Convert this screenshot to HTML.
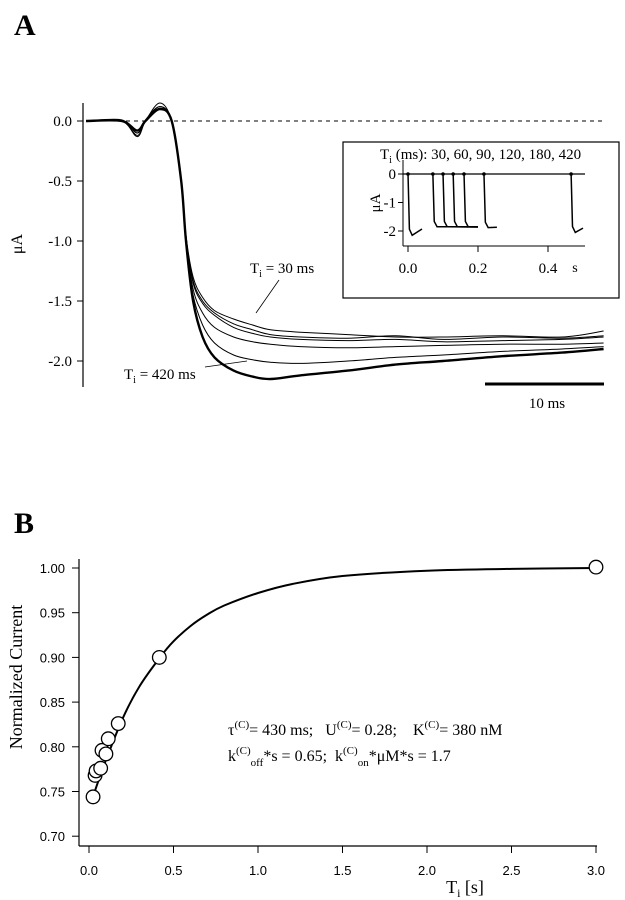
<!DOCTYPE html>
<html><head><meta charset="utf-8"><style>
html,body{margin:0;padding:0;background:#fff}
svg{display:block}
text{font-family:"Liberation Serif",serif;fill:#000}
.sans{font-family:"Liberation Sans",sans-serif}
</style></head><body>
<svg id="fig" width="625" height="900" viewBox="0 0 625 900">
<text x="14" y="35" font-size="30" font-weight="bold">A</text>
<text x="14" y="533" font-size="30" font-weight="bold">B</text>
<g id="gA"></g>
<g id="gI"></g>
<g id="gB"></g>
</svg>
<script>
// ===== Panel A data =====
const timesMs = [0,3,4.3,5,6.2,7.2,8,8.4,9,9.8,10.8,12.4,14,15.5,18,22,26,30,35,40,43.5];
const trace30 = [0,0,-0.13,0,0.15,0,-0.48,-0.95,-1.3,-1.47,-1.58,-1.65,-1.7,-1.74,-1.76,-1.78,-1.8,-1.8,-1.79,-1.8,-1.75];
const trace60 = [0,0.01,-0.1,0.01,0.12,0,-0.49,-0.96,-1.33,-1.5,-1.6,-1.69,-1.74,-1.78,-1.8,-1.81,-1.79,-1.82,-1.8,-1.81,-1.79];
const trace90 = [0,0,-0.12,0,0.12,0,-0.5,-0.97,-1.35,-1.52,-1.62,-1.72,-1.77,-1.8,-1.82,-1.83,-1.82,-1.84,-1.83,-1.82,-1.8];
const trace120 = [0,0,-0.1,0,0.1,0,-0.5,-0.98,-1.4,-1.6,-1.72,-1.8,-1.84,-1.86,-1.88,-1.89,-1.88,-1.87,-1.86,-1.86,-1.85];
const trace180 = [0,0,-0.08,0,0.1,0,-0.5,-1.0,-1.45,-1.7,-1.85,-1.95,-1.99,-2.01,-2.02,-2.0,-1.97,-1.95,-1.92,-1.9,-1.88];
const trace420 = [0,0,-0.08,0,0.1,0,-0.5,-1.0,-1.5,-1.8,-1.97,-2.08,-2.13,-2.15,-2.12,-2.08,-2.03,-2.0,-1.96,-1.93,-1.9];
const yTicksA = [0,-0.5,-1.0,-1.5,-2.0];
const yTickLabelsA = ["0.0","-0.5","-1.0","-1.5","-2.0"];
// ===== Inset data =====
const pulseStarts = [0,0.071,0.1,0.129,0.16,0.217,0.466];
const pulseEnds = [0.04,0.2,0.2,0.2,0.2,0.254,0.5];
const pulseMin = [-2.15,-1.85,-1.85,-1.85,-1.85,-1.88,-2.05];
const pulseEndVal = [-1.93,-1.85,-1.86,-1.86,-1.85,-1.87,-1.9];
const insetYTicks = [0,-1,-2];
const insetYLabels = ["0","-1","-2"];
const insetXTicks = [0,0.2,0.4];
const insetXLabels = ["0.0","0.2","0.4"];
// ===== Panel B data =====
const pointT = [0.024,0.036,0.042,0.069,0.077,0.1,0.114,0.173,0.416,3.0];
const pointV = [0.744,0.768,0.773,0.776,0.796,0.792,0.809,0.826,0.900,1.001];
const fitT = [0.03,0.1,0.2,0.3,0.42,0.5,0.6,0.7,0.8,1.0,1.2,1.5,2.0,2.5,3.0];
const fitV = [0.748,0.785,0.832,0.868,0.900,0.918,0.935,0.948,0.958,0.972,0.982,0.991,0.997,0.999,1.0];
const xTicksB = [0,0.5,1.0,1.5,2.0,2.5,3.0];
const xTickLabelsB = ["0.0","0.5","1.0","1.5","2.0","2.5","3.0"];
const yTicksB = [1.0,0.95,0.9,0.85,0.8,0.75,0.7];
const yTickLabelsB = ["1.00","0.95","0.90","0.85","0.80","0.75","0.70"];

const NS="http://www.w3.org/2000/svg";
function mk(parent,tag,attrs,txt){const e=document.createElementNS(NS,tag);for(const k in attrs)e.setAttribute(k,attrs[k]);if(txt!==undefined)e.textContent=txt;parent.appendChild(e);return e;}
function smooth(P){
  let d='M'+P[0][0].toFixed(1)+','+P[0][1].toFixed(1);
  for(let i=0;i<P.length-1;i++){
    const p0=P[i-1]||P[i],p1=P[i],p2=P[i+1],p3=P[i+2]||P[i+1];
    const c1=[p1[0]+(p2[0]-p0[0])/6,p1[1]+(p2[1]-p0[1])/6];
    const c2=[p2[0]-(p3[0]-p1[0])/6,p2[1]-(p3[1]-p1[1])/6];
    d+=` C${c1[0].toFixed(1)},${c1[1].toFixed(1)} ${c2[0].toFixed(1)},${c2[1].toFixed(1)} ${p2[0].toFixed(1)},${p2[1].toFixed(1)}`;
  }
  return d;
}

// ---- Panel A ----
const gA=document.getElementById('gA');
const xA=t=>86+t*11.9;
const yA=v=>121-v*120;
let ax=mk(gA,'line',{x1:83,y1:103,x2:83,y2:387,stroke:'#000','stroke-width':1.2});


yTicksA.forEach((v,i)=>{
  let tk=mk(gA,'line',{x1:77,y1:yA(v),x2:83,y2:yA(v),stroke:'#000','stroke-width':1});
  
  
  let tl=mk(gA,'text',{x:72,y:yA(v)+5,'font-size':15,'text-anchor':'end'},yTickLabelsA[i]);
  
  
});
let yl=mk(gA,'text',{x:0,y:0,'font-size':16,'text-anchor':'middle',transform:'translate(22,244) rotate(-90)'},'μA');


let zl=mk(gA,'line',{x1:86,y1:yA(0),x2:604,y2:yA(0),stroke:'#000','stroke-width':1,'stroke-dasharray':'4,4'});


const traces=[[trace30,1,'trace-30ms'],[trace60,1,'trace-60ms'],[trace90,1,'trace-90ms'],[trace120,1,'trace-120ms'],[trace180,1,'trace-180ms'],[trace420,2.4,'trace-420ms']];
traces.forEach(([arr,w,name])=>{
  const P=arr.map((v,i)=>[xA(timesMs[i]),yA(v)]);
  let p=mk(gA,'path',{d:smooth(P),fill:'none',stroke:'#000','stroke-width':w,'stroke-linejoin':'round'});
  
  
});
let sb=mk(gA,'line',{x1:485,y1:384,x2:604,y2:384,stroke:'#000','stroke-width':3});


let sbl=mk(gA,'text',{x:547,y:408,'font-size':15,'text-anchor':'middle'},'10 ms');


let l30=mk(gA,'text',{x:250,y:273,'font-size':15},'');
l30.innerHTML='T<tspan font-size="10" dy="4">i</tspan><tspan dy="-4"> = 30 ms</tspan>';


let ln30=mk(gA,'line',{x1:279,y1:280,x2:256,y2:313,stroke:'#000','stroke-width':0.8});


let l420=mk(gA,'text',{x:124,y:379,'font-size':15},'');
l420.innerHTML='T<tspan font-size="10" dy="4">i</tspan><tspan dy="-4"> = 420 ms</tspan>';


let ln420=mk(gA,'line',{x1:205,y1:367,x2:247,y2:361,stroke:'#000','stroke-width':0.8});



// ---- Inset ----
const gI=document.getElementById('gI');
const xI=t=>408+t*350;
const yI=v=>174-v*28.5;
let box=mk(gI,'rect',{x:343,y:142,width:276,height:156,fill:'#fff',stroke:'#000','stroke-width':1.2});


let it=mk(gI,'text',{x:380,y:159,'font-size':15},'');
it.innerHTML='T<tspan font-size="10" dy="4">i</tspan><tspan dy="-4"> (ms): 30, 60, 90, 120, 180, 420</tspan>';


let iya=mk(gI,'line',{x1:403,y1:160,x2:403,y2:246,stroke:'#000','stroke-width':1});


let ixa=mk(gI,'line',{x1:403,y1:246,x2:585,y2:246,stroke:'#000','stroke-width':1});


let iz=mk(gI,'line',{x1:403,y1:yI(0),x2:585,y2:yI(0),stroke:'#000','stroke-width':1.2});


insetYTicks.forEach((v,i)=>{
  let tk=mk(gI,'line',{x1:398,y1:yI(v),x2:403,y2:yI(v),stroke:'#000'});
  
  
  let tl=mk(gI,'text',{x:396,y:yI(v)+5,'font-size':15,'text-anchor':'end'},insetYLabels[i]);
  
  
});
insetXTicks.forEach((v,i)=>{
  let tk=mk(gI,'line',{x1:xI(v),y1:246,x2:xI(v),y2:252,stroke:'#000'});
  
  
  let tl=mk(gI,'text',{x:xI(v),y:273,'font-size':15,'text-anchor':'middle'},insetXLabels[i]);
  
  
});
let iyl=mk(gI,'text',{x:0,y:0,'font-size':15,'text-anchor':'middle',transform:'translate(380,203) rotate(-90)'},'μA');


let is=mk(gI,'text',{x:575,y:272,'font-size':14,'text-anchor':'middle'},'s');


pulseStarts.forEach((s,i)=>{
  const x0=xI(s), x1=xI(s+0.004), x2=xI(s+0.012), xe=xI(pulseEnds[i]);
  const d=`M${x0},${yI(0.03)} L${x1},${yI(pulseMin[i]*0.9)} L${x2},${yI(pulseMin[i])} L${xe},${yI(pulseEndVal[i])}`;
  let p=mk(gI,'path',{d:d,fill:'none',stroke:'#000','stroke-width':1.5});
  
  
  let c=mk(gI,'circle',{cx:x0,cy:yI(0),r:1.8,fill:'#000'});
  
  
});

// ---- Panel B ----
const gB=document.getElementById('gB');
const xB=t=>89+t*169;
const yB=v=>568+(1-v)*894;
let bya=mk(gB,'line',{x1:79,y1:559,x2:79,y2:846,stroke:'#000','stroke-width':1.2});


let bxa=mk(gB,'line',{x1:79,y1:846,x2:597,y2:846,stroke:'#000','stroke-width':1.2});


yTicksB.forEach((v,i)=>{
  let tk=mk(gB,'line',{x1:72,y1:yB(v),x2:79,y2:yB(v),stroke:'#000'});
  
  
  let tl=mk(gB,'text',{x:65,y:yB(v)+5,'font-size':13,'text-anchor':'end','class':'sans'},yTickLabelsB[i]);
  
  
});
xTicksB.forEach((v,i)=>{
  let tk=mk(gB,'line',{x1:xB(v),y1:846,x2:xB(v),y2:853,stroke:'#000'});
  
  
  let tl=mk(gB,'text',{x:xB(v),y:875,'font-size':13,'text-anchor':'middle','class':'sans'},xTickLabelsB[i]);
  
  
});
let bxt=mk(gB,'text',{x:465,y:893,'font-size':18,'text-anchor':'middle'},'');
bxt.innerHTML='T<tspan font-size="12" dy="4">i</tspan><tspan dy="-4"> [s]</tspan>';


let byt=mk(gB,'text',{x:0,y:0,'font-size':18,'text-anchor':'middle',transform:'translate(22,677) rotate(-90)'},'Normalized Current');


const PB=fitT.map((t,i)=>[xB(t),yB(fitV[i])]);
let fit=mk(gB,'path',{d:smooth(PB),fill:'none',stroke:'#000','stroke-width':2});


pointT.forEach((t,i)=>{
  let c=mk(gB,'circle',{cx:xB(t),cy:yB(pointV[i]),r:6.8,fill:'#fff',stroke:'#000','stroke-width':1.3});
  
  
});
let a1=mk(gB,'text',{x:228,y:735,'font-size':16},'');
a1.innerHTML='τ<tspan font-size="11" dy="-7">(C)</tspan><tspan dy="7">= 430 ms;&#160;&#160; U</tspan><tspan font-size="11" dy="-7">(C)</tspan><tspan dy="7">= 0.28;&#160;&#160;&#160; K</tspan><tspan font-size="11" dy="-7">(C)</tspan><tspan dy="7">= 380 nM</tspan>';


let a2=mk(gB,'text',{x:228,y:761,'font-size':16},'');
a2.innerHTML='k<tspan font-size="11" dy="-7">(C)</tspan><tspan font-size="11" dy="12">off</tspan><tspan dy="-5">*s = 0.65;&#160; k</tspan><tspan font-size="11" dy="-7">(C)</tspan><tspan font-size="11" dy="12">on</tspan><tspan dy="-5">*μM*s = 1.7</tspan>';


</script>
</body></html>
